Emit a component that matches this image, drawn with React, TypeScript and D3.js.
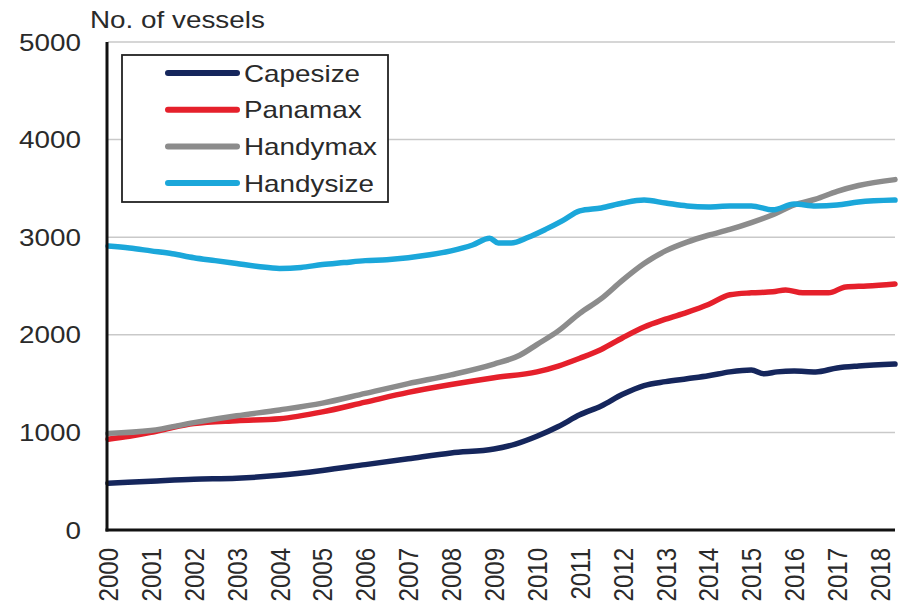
import React from "react";
import * as d3 from "d3";

const years = [2000, 2001, 2002, 2003, 2004, 2005, 2006, 2007, 2008, 2009, 2010, 2011, 2012, 2013, 2014, 2015, 2016, 2017, 2018];
const yTicks = [0, 1000, 2000, 3000, 4000, 5000];

const capesize: [number, number][] = [
  [2000, 480], [2001, 500], [2002, 520], [2003, 530], [2004, 560], [2005, 610], [2006, 670], [2007, 730],
  [2008, 790], [2009, 830], [2009.5, 880], [2010, 960], [2010.5, 1060], [2011, 1180], [2011.5, 1270],
  [2012, 1390], [2012.5, 1480], [2013, 1520], [2013.5, 1550], [2014, 1580], [2014.5, 1620], [2015, 1640],
  [2015.3, 1600], [2015.6, 1620], [2016, 1630], [2016.5, 1620], [2017, 1660], [2017.5, 1680], [2018.35, 1700],
];
const panamax: [number, number][] = [
  [2000, 930], [2000.5, 960], [2001, 1000], [2001.5, 1050], [2002, 1090], [2003, 1120], [2004, 1140],
  [2005, 1210], [2006, 1310], [2007, 1410], [2008, 1490], [2009, 1560], [2010, 1620], [2010.5, 1680],
  [2011, 1760], [2011.5, 1850], [2012, 1970], [2012.5, 2080], [2013, 2160], [2013.5, 2230], [2014, 2310],
  [2014.5, 2410], [2015, 2430], [2015.5, 2440], [2015.8, 2460], [2016.2, 2430], [2016.8, 2430],
  [2017.2, 2490], [2017.7, 2500], [2018.35, 2520],
];
const handymax: [number, number][] = [
  [2000, 990], [2001, 1020], [2002, 1100], [2003, 1170], [2004, 1230], [2005, 1300], [2006, 1400],
  [2007, 1500], [2008, 1590], [2009, 1700], [2009.6, 1790], [2010, 1900], [2010.5, 2040], [2011, 2220],
  [2011.5, 2370], [2012, 2560], [2012.5, 2730], [2013, 2860], [2013.5, 2950], [2014, 3020], [2014.5, 3080],
  [2015, 3150], [2015.5, 3230], [2016, 3330], [2016.5, 3390], [2017, 3470], [2017.5, 3530], [2018.35, 3590],
];
const handysize: [number, number][] = [
  [2000, 2910], [2000.5, 2890], [2001, 2860], [2001.5, 2830], [2002, 2790], [2002.5, 2760], [2003, 2730],
  [2003.5, 2700], [2004, 2680], [2004.5, 2690], [2005, 2720], [2005.5, 2740], [2006, 2760], [2006.5, 2770],
  [2007, 2790], [2007.5, 2820], [2008, 2860], [2008.5, 2920], [2008.9, 2990], [2009.1, 2940], [2009.4, 2940],
  [2009.8, 3000], [2010.2, 3080], [2010.6, 3170], [2011, 3270], [2011.5, 3300], [2012, 3350], [2012.5, 3380],
  [2013, 3350], [2013.5, 3320], [2014, 3310], [2014.5, 3320], [2015, 3320], [2015.5, 3280], [2016, 3340],
  [2016.5, 3320], [2017, 3330], [2017.5, 3360], [2018.35, 3380],
];

const seriesNames = ["Capesize", "Panamax", "Handymax", "Handysize"];
const seriesData = [capesize, panamax, handymax, handysize];
const seriesColors = ["#15265c", "#e5202b", "#8c8c8c", "#1ba7da"];

const FONT = "'Liberation Sans', Arial, Helvetica, sans-serif";
const SX = 1.16;

export default function App() {
  const x = d3.scaleLinear().domain([2000, 2018.35]).range([108, 895]);
  const y = d3.scaleLinear().domain([0, 5000]).range([530, 42]);
  const line = d3
    .line<[number, number]>()
    .x((d) => x(d[0]))
    .y((d) => y(d[1]))
    .curve(d3.curveMonotoneX);

  return (
    <svg width={903} height={609} style={{ position: "absolute", left: 0, top: 0, background: "#fff" }} fontFamily={FONT}>
      <rect width={903} height={609} fill="#fff" />
      {yTicks.filter((t) => t > 0).map((t) => (
        <line key={t} x1={108} x2={895} y1={y(t)} y2={y(t)} stroke="#c9c9c9" strokeWidth={1.5} />
      ))}
      {yTicks.map((t) => (
        <g key={t} transform={`translate(81,${y(t)}) scale(${SX},1)`}>
          <text textAnchor="end" dy="0.36em" fontSize={24} fill="#2a2a2a">{t}</text>
        </g>
      ))}
      <g transform={`translate(90,28) scale(${SX},1)`}>
        <text fontSize={24} fill="#2a2a2a">No. of vessels</text>
      </g>
      {years.map((yr) => (
        <g key={yr} transform={`translate(${x(yr)},548) scale(${SX},1)`}>
          <text transform="rotate(-90)" textAnchor="end" dy="0.36em" fontSize={24} fill="#2a2a2a">{yr}</text>
        </g>
      ))}
      {seriesData.map((s, i) => (
        <path key={i} d={line(s) || ""} fill="none" stroke={seriesColors[i]} strokeWidth={5.5} strokeLinejoin="round" strokeLinecap="round" />
      ))}
      <line x1={107} x2={107} y1={42} y2={531.5} stroke="#111" strokeWidth={3} />
      <line x1={105.5} x2={895} y1={530} y2={530} stroke="#111" strokeWidth={3} />
      <rect x={122} y={55} width={266} height={147} fill="#fff" stroke="#222" strokeWidth={1.8} />
      {seriesNames.map((n, i) => {
        const ly = 73 + i * 36.7;
        return (
          <g key={n}>
            <line x1={168} x2={237} y1={ly} y2={ly} stroke={seriesColors[i]} strokeWidth={6} strokeLinecap="round" />
            <g transform={`translate(244,${ly}) scale(${SX},1)`}>
              <text dy="0.36em" fontSize={24} fill="#2a2a2a">{n}</text>
            </g>
          </g>
        );
      })}
    </svg>
  );
}
